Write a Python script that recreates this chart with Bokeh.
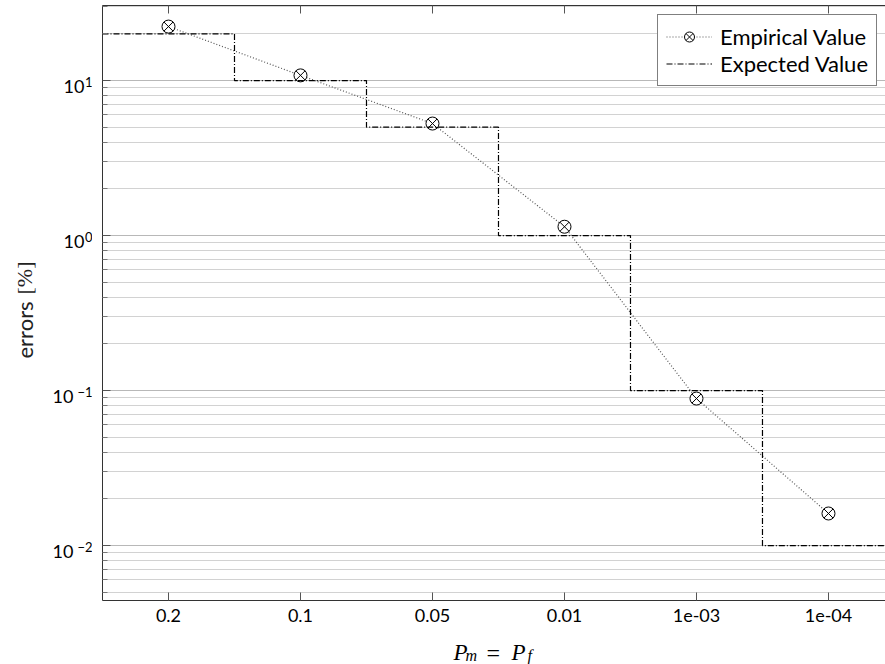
import math
from bokeh.plotting import figure
from bokeh.layouts import row, column
from bokeh.models import (Range1d, FixedTicker, LinearAxis, CustomJSTickFormatter,
                          Legend, LegendItem, ColumnDataSource)
from bokeh.core.properties import value
from bokeh.embed import file_html
from bokeh.resources import INLINE

# ---------------- data ----------------
categories = ["0.2", "0.1", "0.05", "0.01", "1e-03", "1e-04"]
empirical = [22.3, 10.8, 5.28, 1.14, 0.0888, 0.0161]
expected = [20, 10, 5, 1, 0.1, 0.01]
y_exponents = [-2, -1, 0, 1]

idx = list(range(len(categories)))
y_major = [10.0 ** e for e in y_exponents]
y_minor = [m * 10.0 ** e for e in range(-3, 2) for m in range(2, 10)]

FONT = "Lato"
SERIF = "Liberation Serif"
AX = "#333333"

W, H = 885, 664
YLAB_W, XLAB_H = 92, 34
FRAME_LEFT, FRAME_TOP, FRAME_BOTTOM_BORDER = 102, 5, 30
Y_LO, Y_HI = 0.00442, 30.5

p = figure(width=W - YLAB_W, height=H - XLAB_H, title=None,
           x_range=Range1d(-0.5, 5.432), y_range=Range1d(Y_LO, Y_HI),
           y_axis_type="log", output_backend="svg", toolbar_location=None,
           min_border_left=FRAME_LEFT - YLAB_W, min_border_right=0,
           min_border_top=FRAME_TOP, min_border_bottom=FRAME_BOTTOM_BORDER)
p.outline_line_color = None
p.background_fill_color = "white"

# x axis (bottom)
xa = p.xaxis[0]
xa.ticker = FixedTicker(ticks=idx)
xa.major_label_overrides = {i: c for i, c in zip(idx, categories)}
xa.major_label_text_font = FONT
xa.major_label_text_font_size = "18px"
xa.major_label_text_color = "black"
xa.major_tick_in = 8
xa.major_tick_out = 0
xa.minor_tick_line_color = None
xa.major_tick_line_color = "#555555"
xa.axis_line_color = AX
xa.major_label_standoff = 8

# top axis: ticks only
top = LinearAxis(ticker=FixedTicker(ticks=idx),
                 formatter=CustomJSTickFormatter(code="return '';"),
                 major_tick_in=8, major_tick_out=0, minor_tick_line_color=None,
                 major_tick_line_color="#555555", axis_line_color=AX,
                 major_label_standoff=0, major_label_text_font_size="1px")
p.add_layout(top, "above")

# y axis (tick labels drawn in the left text panel, with real superscripts)
ya = p.yaxis[0]
ya.ticker = FixedTicker(ticks=y_major, minor_ticks=y_minor)
ya.formatter = CustomJSTickFormatter(code="return '';")
ya.major_label_text_font_size = "1px"
ya.major_label_standoff = 0
ya.major_tick_in = 8
ya.major_tick_out = 0
ya.minor_tick_in = 5
ya.minor_tick_out = 0
ya.major_tick_line_color = "#555555"
ya.minor_tick_line_color = "#777777"
ya.axis_line_color = AX

p.xgrid.visible = False
p.ygrid.grid_line_color = "#b8b8b8"
p.ygrid.minor_grid_line_color = "#d2d2d2"

# ---------------- data marks ----------------
src = ColumnDataSource(dict(x=idx, y=empirical))
emp_line = p.line("x", "y", source=src, line_color="#555555", line_dash="1 2", line_width=1.2)
emp_pts = p.scatter("x", "y", source=src, marker="circle_x", size=13,
                    fill_color="white", line_color="black", line_width=1)

step_x = [v for i in idx for v in (i - 0.5, i + 0.5)]
step_y = [v for v in expected for _ in (0, 1)]
exp_line = p.line(step_x, step_y, line_color="black", line_dash="6 2 1 2", line_width=1.2)

legend = Legend(items=[LegendItem(label="Empirical Value", renderers=[emp_line, emp_pts]),
                       LegendItem(label="Expected Value", renderers=[exp_line])],
                location=(555, 514))
legend.label_text_font = FONT
legend.label_text_font_size = "22px"
legend.label_text_color = "black"
legend.border_line_color = "black"
legend.border_line_width = 1
legend.background_fill_alpha = 1
legend.glyph_width = 46
legend.glyph_height = 25
legend.label_standoff = 8
legend.label_height = 25
legend.spacing = 0
legend.padding = 8
legend.margin = 0
p.add_layout(legend)


def text_panel(w, h, y_range, y_axis_type="linear"):
    f = figure(width=w, height=h, title=None, x_range=Range1d(0, w), y_range=y_range,
               y_axis_type=y_axis_type, output_backend="svg", toolbar_location=None,
               min_border=0, min_border_left=0, min_border_right=0,
               min_border_top=0, min_border_bottom=0)
    f.axis.visible = False
    f.grid.visible = False
    f.outline_line_color = None
    f.background_fill_color = "white"
    return f


# ---------------- x axis label: P_m = P_f ----------------
xl = text_panel(W, XLAB_H, Range1d(0, XLAB_H))
xparts = [("P", 453, 12, "23px", "italic"),
          ("m", 465, 9, "16px", "italic"),
          ("=", 486, 12, "24px", "normal"),
          ("P", 511, 12, "23px", "italic"),
          ("f", 527, 9, "16px", "italic")]
for t, x, y, s, st in xparts:
    xl.text(x=[x], y=[y], text=[t], text_font=value(SERIF), text_font_size=s,
            text_font_style=st, text_baseline="alphabetic", text_align="left",
            text_color="black")

# ---------------- left panel: y tick labels + y axis label ----------------
# (its frame is aligned with the main frame by the row layout; share the scale)
yl = text_panel(YLAB_W, H - XLAB_H, p.y_range, "log")
yl.min_border_top = FRAME_TOP
yl.min_border_bottom = FRAME_BOTTOM_BORDER

exp_txt = [str(e).replace("-", "\u2212") for e in y_exponents]
exp_w = [8 + (11 if e < 0 else 0) for e in y_exponents]
lab_right = FRAME_LEFT - 10
yl.text(x=[lab_right - w for w in exp_w], y=y_major, text=["10"] * len(y_major),
        text_font=value(FONT), text_font_size="18px", text_align="right",
        text_baseline="alphabetic", y_offset=6, text_color="black")
yl.text(x=[lab_right] * len(y_major), y=y_major, text=exp_txt,
        text_font=value(FONT), text_font_size="13px", text_align="right",
        text_baseline="alphabetic", y_offset=1, text_color="black")

# "errors [%]" rotated (screen y of the start of each piece)
for t, f, ys in [("errors", FONT, 358), ("[%]", SERIF, 294)]:
    yl.text(x=[24], y=[Y_HI], text=[t], text_font=value(f), text_font_size="22px",
            angle=math.pi / 2, text_align="left", text_baseline="middle",
            y_offset=ys - FRAME_TOP, text_color="#222222")

layout = column(row(yl, p, spacing=0), xl, spacing=0)

open("out.html", "w").write(file_html(layout, INLINE))
